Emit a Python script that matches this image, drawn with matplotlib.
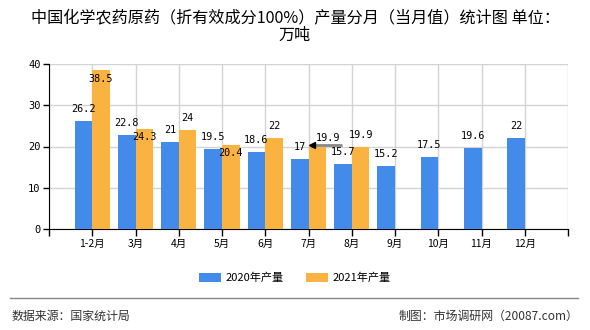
import matplotlib
matplotlib.use("Agg")
import matplotlib.pyplot as plt
import numpy as np

categories = ["1-2月", "3月", "4月", "5月", "6月", "7月", "8月", "9月", "10月", "11月", "12月"]
prod_2020 = [26.2, 22.8, 21, 19.5, 18.6, 17, 15.7, 15.2, 17.5, 19.6, 22]
prod_2021 = [38.5, 24.3, 24, 20.4, 22, 19.9, 19.9]
yticks = [0, 10, 20, 30, 40]
series_names = ["2020年产量", "2021年产量"]
title = "中国化学农药原药（折有效成分100%）产量分月（当月值）统计图 单位：\n万吨"
source_text = "数据来源：国家统计局"
credit_text = "制图：市场调研网（20087.com）"

CJK = ["Noto Sans CJK SC", "DejaVu Sans"]
MONO = ["DejaVu Sans Mono"]
BLUE = "#428BEB"
ORANGE = "#FAB240"

fig = plt.figure(figsize=(5.9, 3.3), dpi=100)
ax = fig.add_axes([49/590, 1-229/330, (568-49)/590, (229-64)/330])

x20 = np.arange(len(prod_2020))
x21 = np.arange(len(prod_2021))
w = 0.41
ax.bar(x20 - w/2, prod_2020, width=w, color=BLUE, zorder=3, label=series_names[0])
ax.bar(x21 + w/2, prod_2021, width=w, color=ORANGE, zorder=3, label=series_names[1])

ax.set_xlim(-1, len(categories))
ax.set_ylim(0, 40)
ax.set_yticks(yticks)
ax.set_yticklabels([str(v) for v in yticks], family=MONO, fontsize=7.5)
ax.set_xticks(np.arange(-1, len(categories) + 1))
ax.set_xticklabels([""] + categories + [""], family=CJK, fontsize=7.5)
ax.grid(True, color="#d3d3d3", lw=1, zorder=0)
for s in ["top", "right"]:
    ax.spines[s].set_visible(False)
ax.spines["left"].set_color("black")
ax.spines["bottom"].set_color("black")
ax.tick_params(axis="both", length=4, width=1, color="black", pad=2)
ax.tick_params(axis="x", length=5)

ppd = 165 / 40.0  # pixels per data unit
def px(v):
    return v / ppd

# labels for 2020
for xi, v in zip(x20, prod_2020):
    ax.text(xi - w/2, v + px(12), f"{v:g}", ha="center", va="center",
            family=MONO, fontsize=7.3, zorder=5)
# labels for 2021
inside = [True, True, False, True, False, None, False]
for xi, v, ins in zip(x21, prod_2021, inside):
    if ins is None:
        continue
    dy = -px(8.5) if ins else px(12)
    ax.text(xi + w/2, v + dy, f"{v:g}", ha="center", va="center",
            family=MONO, fontsize=7.3, zorder=5)
# special annotated label (7月 2021)
i7 = 5
v7 = prod_2021[i7]
y_line = v7 + px(2)
ax.plot([i7 + 0.1, i7 + 0.77], [y_line, y_line], color="#888888", lw=2, zorder=6, solid_capstyle="butt")
ax.plot([i7 + 0.07], [y_line], marker="<", color="black", ms=5, zorder=7)
ax.text(i7 + 0.45, v7 + px(9), f"{v7:g}", ha="center", va="center",
        family=MONO, fontsize=7.3, zorder=7)

fig.text(0.5, 1-27/330, title, ha="center", va="center", family=CJK, fontsize=11.6,
         linespacing=1.05)

leg = fig.legend(loc="center", bbox_to_anchor=(0.5, 1-278/330), ncol=2, frameon=False,
                 prop={"family": CJK, "size": 8}, handlelength=2.0, handleheight=0.8,
                 columnspacing=2.0, handletextpad=0.4)

fig.add_artist(plt.Line2D([10/590, 578/590], [1-298/330, 1-298/330], color="#888888", lw=1))
fig.text(12/590, 1-316/330, source_text, ha="left", va="center", family=CJK, fontsize=8.6, color="#333333")
fig.text(578/590, 1-316/330, credit_text, ha="right", va="center", family=CJK, fontsize=8.6, color="#333333")

fig.savefig("out.png", dpi=100)
